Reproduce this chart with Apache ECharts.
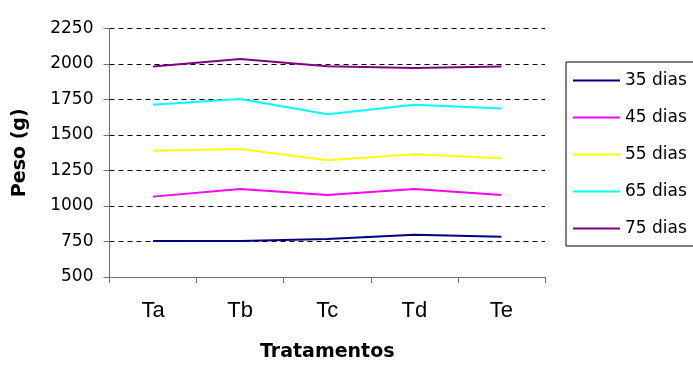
<!DOCTYPE html>
<html>
<head>
<meta charset="utf-8">
<script src="https://cdn.jsdelivr.net/npm/echarts@6/dist/echarts.min.js"></script>
<style>html,body{margin:0;padding:0;background:#fff;}#c{width:693px;height:367px;}</style>
</head>
<body>
<div id="c"></div>
<script>
const categories = ['Ta', 'Tb', 'Tc', 'Td', 'Te'];
const seriesNames = ['35 dias', '45 dias', '55 dias', '65 dias', '75 dias'];
const d35 = [754, 754, 768, 798, 784];
const d45 = [1066, 1119, 1077, 1119, 1077];
const d55 = [1389, 1401, 1322, 1364, 1336];
const d65 = [1713, 1754, 1646, 1713, 1687];
const d75 = [1983, 2036, 1985, 1971, 1983];
const yTicks = { min: 500, max: 2250, interval: 250 };
const colors = ['#000080', '#FF00FF', '#FFFF00', '#00FFFF', '#800080'];

const allData = [d35, d45, d55, d65, d75];
const chart = echarts.init(document.getElementById('c'), null, { renderer: 'canvas' });
chart.setOption({
  animation: false,
  backgroundColor: '#ffffff',
  grid: { left: 109.5, right: 148, top: 28.5, bottom: 85.5, containLabel: false },
  legend: {
    orient: 'vertical',
    left: 566, top: 62,
    padding: [10, 40, 9, 7],
    borderColor: '#000', borderWidth: 1,
    icon: 'rect',
    itemWidth: 47, itemHeight: 2, itemGap: 20,
    textStyle: { fontFamily: 'DejaVu Sans', fontSize: 17, color: '#000' },
    data: seriesNames
  },
  xAxis: {
    type: 'category',
    data: categories,
    boundaryGap: true,
    name: 'Tratamentos',
    nameLocation: 'middle',
    nameGap: 66,
    nameTextStyle: { fontFamily: 'DejaVu Sans', fontWeight: 'bold', fontSize: 19, color: '#000' },
    axisLine: { lineStyle: { color: '#707070', width: 1 } },
    axisTick: { show: true, length: 6, lineStyle: { color: '#707070' } },
    axisLabel: { margin: 23, fontFamily: 'Liberation Sans', fontSize: 22, color: '#000' },
    splitLine: { show: false }
  },
  yAxis: {
    type: 'value',
    min: yTicks.min, max: yTicks.max, interval: yTicks.interval,
    name: 'Peso (g)',
    nameLocation: 'middle',
    nameGap: 80,
    nameTextStyle: { fontFamily: 'DejaVu Sans', fontWeight: 'bold', fontSize: 19, color: '#000' },
    axisLine: { show: true, lineStyle: { color: '#707070', width: 1 } },
    axisTick: { show: true, length: 6, lineStyle: { color: '#707070' } },
    axisLabel: { margin: 16, fontFamily: 'DejaVu Sans', fontSize: 17, color: '#000', formatter: v => String(v) },
    splitLine: { show: true, lineStyle: { color: '#000', width: 1, type: [5, 4] } }
  },
  series: seriesNames.map((n, i) => ({
    name: n,
    type: 'line',
    data: allData[i],
    symbol: 'none',
    color: colors[i],
    lineStyle: { color: colors[i], width: 2 },
    z: 3
  }))
});
</script>
</body>
</html>
